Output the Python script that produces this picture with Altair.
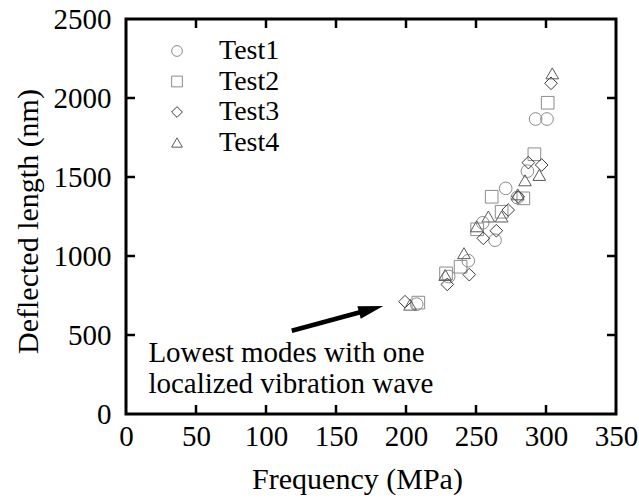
import altair as alt
import pandas as pd

# ---- data ----
series = ["Test1", "Test2", "Test3", "Test4"]
t1_x = [207.6, 230.5, 244.5, 254.8, 263.6, 271.2, 279.5, 286.7, 292.6, 300.7]
t1_y = [695, 870, 970, 1210, 1100, 1428, 1370, 1537, 1867, 1867]
t2_x = [208.8, 228.6, 239.0, 250.8, 261.2, 268.3, 283.8, 291.7, 301.2]
t2_y = [705, 890, 932, 1169, 1375, 1280, 1365, 1644, 1970]
t3_x = [199.3, 229.5, 245.2, 255.2, 264.5, 273.0, 280.2, 287.4, 296.9, 303.6]
t3_y = [711, 820, 882, 1112, 1160, 1291, 1375, 1591, 1576, 2093]
t4_x = [202.9, 228.0, 241.4, 250.5, 258.8, 268.3, 279.8, 285.0, 295.2, 304.5]
t4_y = [692, 880, 1018, 1188, 1250, 1250, 1390, 1479, 1513, 2156]

x_ticks = [0, 50, 100, 150, 200, 250, 300, 350]
y_ticks = [0, 500, 1000, 1500, 2000, 2500]
x_inner_ticks = [50, 100, 150, 200, 250, 300]
y_inner_ticks = [500, 1000, 1500, 2000]

note_lines = ["Lowest modes with one", "localized vibration wave"]
note_x = [16]
note_y = [331]
arrow_tail = [118.4, 527]
arrow_head_mid = [175.1, 663]

FONT = "Liberation Serif"
W, H = 490, 395

rows = []
for name, xs_, ys_ in zip(series, [t1_x, t2_x, t3_x, t4_x], [t1_y, t2_y, t3_y, t4_y]):
    for a, b in zip(xs_, ys_):
        rows.append({"f": a, "d": b, "s": name})
df = pd.DataFrame(rows)

xs = alt.Scale(domain=[0, 350], nice=False, zero=False)
ys = alt.Scale(domain=[0, 2500], nice=False, zero=False)

x_axis = alt.Axis(values=x_ticks, format="d", ticks=False, tickSize=0, domain=False,
                  grid=False, labelPadding=8, labelFlush=False, title="Frequency (MPa)",
                  titleX=231, titleY=74, titleBaseline="alphabetic", titleAlign="center")
y_axis = alt.Axis(values=y_ticks, format="d", ticks=False, tickSize=0, domain=False,
                  grid=False, labelPadding=15, labelFlush=False,
                  title="Deflected length (nm)",
                  titleX=-98, titleY=202, titleAlign="center", titleBaseline="middle",
                  titleAngle=270)

leg = alt.Legend(title=None, orient="none", legendX=37, legendY=18,
                 symbolSize=115, symbolStrokeWidth=1, labelOffset=28,
                 rowPadding=2.5, padding=0)

points = alt.Chart(df).mark_point(filled=False, strokeWidth=1, size=160, opacity=1).encode(
    x=alt.X("f:Q", scale=xs, axis=x_axis),
    y=alt.Y("d:Q", scale=ys, axis=y_axis),
    shape=alt.Shape("s:N", scale=alt.Scale(domain=series,
                    range=["circle", "square", "diamond", "triangle-up"]), legend=leg),
    color=alt.Color("s:N", scale=alt.Scale(domain=series,
                    range=["#8a8a8a", "#8c8c8c", "#3c3c3c", "#5a5a5a"]), legend=leg),
)

# inward ticks on all four sides
xt = pd.DataFrame({"v": x_inner_ticks})
yt = pd.DataFrame({"v": y_inner_ticks})
bottom_ticks = alt.Chart(xt).mark_rule(color="black", strokeWidth=2.5).encode(
    x=alt.X("v:Q", scale=xs, axis=None), y=alt.value(H), y2=alt.value(H - 9))
top_ticks = alt.Chart(xt).mark_rule(color="black", strokeWidth=2.5).encode(
    x=alt.X("v:Q", scale=xs, axis=None), y=alt.value(0), y2=alt.value(9))
left_ticks = alt.Chart(yt).mark_rule(color="black", strokeWidth=2.5).encode(
    y=alt.Y("v:Q", scale=ys, axis=None), x=alt.value(0), x2=alt.value(9))
right_ticks = alt.Chart(yt).mark_rule(color="black", strokeWidth=2.5).encode(
    y=alt.Y("v:Q", scale=ys, axis=None), x=alt.value(W), x2=alt.value(W - 9))

# annotation
note = alt.Chart(pd.DataFrame({"x": note_x, "y": note_y, "t": [note_lines]})).mark_text(
    font=FONT, fontSize=29, color="black", align="left", baseline="alphabetic",
    lineHeight=31).encode(
    x=alt.X("x:Q", scale=xs, axis=None), y=alt.Y("y:Q", scale=ys, axis=None), text="t")

arrow_df = pd.DataFrame({"x": [arrow_tail[0]], "y": [arrow_tail[1]],
                         "x2": [arrow_head_mid[0]], "y2": [arrow_head_mid[1]]})
arrow_line = alt.Chart(arrow_df).mark_rule(color="black", strokeWidth=4.5).encode(
    x=alt.X("x:Q", scale=xs, axis=None), y=alt.Y("y:Q", scale=ys, axis=None),
    x2="x2:Q", y2="y2:Q")
arrow_head = alt.Chart(arrow_df).mark_point(
    shape="M0,-1L0.52,1L-0.52,1Z", filled=True, color="black", opacity=1,
    size=625, angle=75, strokeWidth=0).encode(
    x=alt.X("x2:Q", scale=xs, axis=None), y=alt.Y("y2:Q", scale=ys, axis=None))

chart = alt.layer(
    points, bottom_ticks, top_ticks, left_ticks, right_ticks, note, arrow_line, arrow_head
).resolve_scale(color="shared", shape="shared").resolve_axis(
    x="independent", y="independent"
).properties(
    width=W, height=H,
    autosize=alt.AutoSizeParams(type="none"),
    padding={"left": 126, "top": 19, "right": 23, "bottom": 90},
    background="white",
).configure_view(stroke="black", strokeWidth=3).configure_axis(
    labelFont=FONT, labelFontSize=29, labelColor="black",
    titleFont=FONT, titleFontSize=30, titleFontWeight="normal", titleColor="black",
).configure_legend(
    labelFont=FONT, labelFontSize=28, labelColor="black",
).configure_text(font=FONT)

chart.save("out.html", embed_options={"renderer": "svg", "actions": False})
